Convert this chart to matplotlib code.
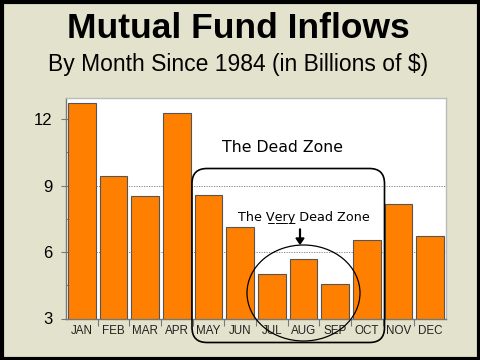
import matplotlib
matplotlib.use("Agg")
import matplotlib.pyplot as plt
from matplotlib.patches import FancyBboxPatch, Ellipse, Rectangle, FancyArrow
from matplotlib.transforms import Affine2D
import numpy as np

months = ["JAN", "FEB", "MAR", "APR", "MAY", "JUN", "JUL", "AUG", "SEP", "OCT", "NOV", "DEC"]
inflows = [12.73, 9.41, 8.51, 12.26, 8.56, 7.13, 4.99, 5.68, 4.56, 6.53, 8.16, 6.73]
y_ticks = [3, 6, 9, 12]
grid_levels = [6, 9]

W, H = 480, 360
fig = plt.figure(figsize=(W / 100, H / 100), dpi=100, facecolor="#E3E3CD")
px = Affine2D().scale(1 / W, -1 / H).translate(0, 1) + fig.transFigure

# outer border
fig.patches.append(Rectangle((1.5, 1.5), W - 3, H - 3, transform=px, fill=False,
                             edgecolor="black", linewidth=3, zorder=10))

ax = fig.add_axes([66 / W, 1 - 318.5 / H, 380 / W, (318.5 - 98) / H])
ax.set_facecolor("white")
x = np.arange(len(months))
ax.bar(x, inflows, width=0.88, bottom=0, color="#FF8000", edgecolor="#555555",
       linewidth=0.8, zorder=2)
ax.set_xlim(-0.5, len(months) - 0.5)
ax.set_ylim(3, 12.95)
for g in grid_levels:
    ax.axhline(g, color="#777777", linestyle=(0, (1.5, 1.5)), linewidth=0.6, zorder=1)

ax.set_yticks(y_ticks)
ax.set_yticklabels([str(v) for v in y_ticks], family="Liberation Sans", fontsize=12)
ax.set_yticks(np.arange(4.5, 13, 3), minor=True)
ax.tick_params(axis="y", which="major", direction="inout", length=7, width=0.8,
               color="#777777", pad=6)
ax.tick_params(axis="y", which="minor", direction="in", length=3, width=0.8, color="#777777")

ax.set_xticks(x)
ax.set_xticklabels(months, family="Liberation Sans", fontsize=8.4, color="#222222")
ax.set_xticks(np.arange(0.5, len(months) - 0.5, 1), minor=True)
ax.tick_params(axis="x", which="major", length=0, pad=5)
ax.tick_params(axis="x", which="minor", direction="out", length=5, width=0.8, color="#777777")

for s in ["left", "bottom"]:
    ax.spines[s].set_color("#777777")
    ax.spines[s].set_linewidth(1.0)
for s in ["top", "right"]:
    ax.spines[s].set_color("#BBBBBB")
    ax.spines[s].set_linewidth(1.0)

# titles
fig.text(238, 29, "Mutual Fund Inflows", transform=px, ha="center", va="center",
         family="Liberation Sans", fontweight="bold", fontsize=25.5)
fig.text(238.5, 64, "By Month Since 1984 (in Billions of $)", transform=px, ha="center",
         va="center", family="Liberation Sans", fontsize=16.5)

# Dead zone rounded box
fig.patches.append(FancyBboxPatch((192, 168.5), 192.5, 174, boxstyle="round,pad=0,rounding_size=15",
                                  transform=px, fill=False, edgecolor="black", linewidth=1.2, zorder=5))
fig.text(283, 148, "The Dead Zone", transform=px, ha="center", va="center",
         family="DejaVu Sans", fontsize=11.3, zorder=6)

# Very dead zone ellipse
fig.patches.append(Ellipse((303.5, 293), 113, 96, transform=px, fill=False,
                           edgecolor="black", linewidth=0.9, zorder=5))

very = "".join(ch + "\u0332" for ch in "Very")
fig.text(303.5, 218, "The " + very + " Dead Zone", transform=px, ha="center", va="center",
         family="DejaVu Sans", fontsize=9.2, zorder=7,
         bbox=dict(facecolor="white", edgecolor="none", pad=1.0))

fig.patches.append(FancyArrow(300, 229, 0, 15, width=0.8, head_width=8,
                              head_length=6, length_includes_head=True,
                              transform=px, color="black", zorder=7))

fig.savefig("out.png", dpi=100, facecolor=fig.get_facecolor())
